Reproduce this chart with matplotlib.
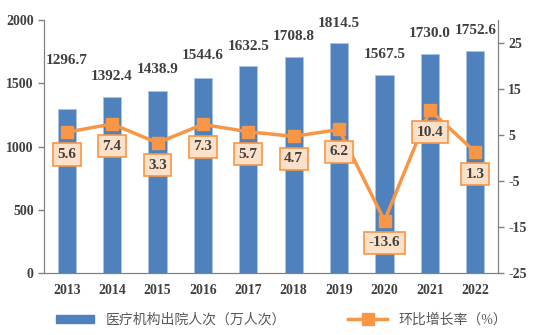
import numpy as np
from matplotlib import pyplot as plt
from matplotlib.lines import Line2D
from matplotlib.patches import Patch

years = ["2013", "2014", "2015", "2016", "2017", "2018", "2019", "2020", "2021", "2022"]
discharges = [1296.7, 1392.4, 1438.9, 1544.6, 1632.5, 1708.8, 1814.5, 1567.5, 1730.0, 1752.6]
growth = [5.6, 7.4, 3.3, 7.3, 5.7, 4.7, 6.2, -13.6, 10.4, 1.3]
bar_label_lift = [30, 10, 11, 11, 10, 10, 10, 10, 10, 10]  # points above bar top

BLUE = "#4F81BD"
ORANGE = "#F79646"
TXT = "#404040"
SPINE = "#808080"
serif = ["Liberation Serif", "Noto Sans CJK SC"]

plt.rcParams["font.family"] = serif
plt.rcParams["axes.unicode_minus"] = False

fig = plt.figure(figsize=(5.41, 3.35), dpi=100)
ax = fig.add_axes([44 / 541, 1 - 273 / 335, (498 - 44) / 541, (273 - 20) / 335])
ax2 = ax.twinx()

x = np.arange(len(years))
ax.bar(x, discharges, width=0.4, color=BLUE, edgecolor="#A9C3E3", linewidth=0.6, zorder=2)
ax.set_xlim(-0.5, len(years) - 0.5)
ax.set_ylim(0, 2000)
ax.set_yticks([0, 500, 1000, 1500, 2000])
ax.set_xticks(x)
ax.set_xticklabels(years)

for xi, v, lift in zip(x, discharges, bar_label_lift):
    ax.annotate(f"{v:.1f}", (xi, v), xytext=(0, lift), textcoords="offset points",
                ha="center", va="bottom", fontsize=11, fontweight="bold", color=TXT)

ax2.plot(x, growth, color=ORANGE, lw=2.5, marker="s", markersize=9, zorder=3)
ax2.set_ylim(-25, 30)
ax2.set_yticks([-25, -15, -5, 5, 15, 25])

for xi, g in zip(x, growth):
    ax2.annotate(f"{g:.1f}", (xi, g), xytext=(0, -16), textcoords="offset points",
                 ha="center", va="center", fontsize=11, fontweight="bold", color=TXT,
                 bbox=dict(boxstyle="square,pad=0.3", fc="#FCE0C8", ec=ORANGE, lw=1.2),
                 zorder=4)

for a in (ax, ax2):
    a.spines["top"].set_visible(False)
    for s in ("left", "right", "bottom"):
        a.spines[s].set_color(SPINE)
    a.tick_params(colors=SPINE, labelcolor=TXT, labelsize=10, width=1, length=4)
    for lbl in a.get_yticklabels() + a.get_xticklabels():
        lbl.set_fontweight("bold")
ax.tick_params(axis="x", length=0, pad=8)
ax.set_zorder(ax2.get_zorder() - 1)
ax2.patch.set_visible(False)

handles = [Patch(color=BLUE, label="医疗机构出院人次（万人次）"),
           Line2D([0], [0], color=ORANGE, lw=2.5, marker="s", markersize=8,
                  label="环比增长率（%）")]
fig.legend(handles=handles, loc="center", bbox_to_anchor=(0.52, 1 - 320 / 335),
           ncol=2, frameon=False, fontsize=10, handlelength=2.8, handleheight=0.5,
           columnspacing=4.5, labelcolor="#595959")

fig.savefig("out.png", dpi=100)
